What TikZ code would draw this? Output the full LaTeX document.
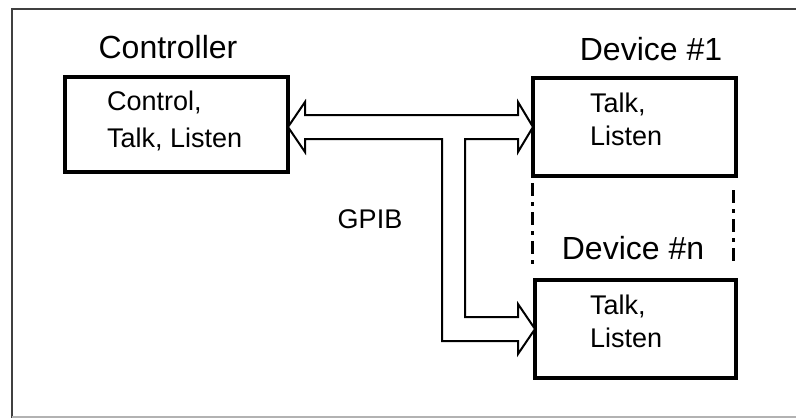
\documentclass[tikz,border=0pt]{standalone}
\usepackage{fontspec}
\setmainfont{Liberation Sans}
\usetikzlibrary{calc}
\begin{document}
\begin{tikzpicture}[x=1pt,y=-1pt,
  unitbox/.style={draw=black,line width=4pt,fill=white},
  title/.style={anchor=base,inner sep=0pt,font=\fontsize{32}{38}\selectfont},
  body/.style={anchor=base west,inner sep=0pt,font=\fontsize{27}{32}\selectfont},
  bus/.style={draw=black,line width=2pt,fill=white,line join=miter},
  spare/.style={draw=black,line width=3pt,dash pattern=on 13pt off 6pt on 4pt off 6pt}]
  \useasboundingbox (0,0) rectangle (796,418);

  % outer frame
  \draw[black!75,line width=2.5pt] (12,418) -- (12,9) -- (796,9);
  \draw[black!30,line width=1.5pt] (12,417) -- (796,417);

  % units
  \path[unitbox] (65,77) rectangle (288,172);
  \coordinate (ctrlE) at (288,127);
  \path[unitbox] (533,78) rectangle (736,176);
  \coordinate (devoneW) at (533,127);
  \path[unitbox] (535,280) rectangle (736,378);
  \coordinate (devnW) at (535,329);

  % placeholder outline for further devices
  \coordinate (sp1) at (532,183);
  \coordinate (sp2) at (532,268);
  \coordinate (sp3) at (733,190);
  \coordinate (sp4) at (733,262);
  \draw[spare] (sp1) -- (sp2);
  \draw[spare] (sp3) -- (sp4);

  % titles
  \node[title] (tctrl) at (168,58) {Controller};
  \node[title] (tdev1) at (651,60) {Device \#1};
  \node[title] (tdevn) at (633,259) {Device \#n};

  % box contents
  \node[body] (c1) at (107,110) {Control,};
  \node[body] (c2) at (107,147) {Talk, Listen};
  \node[body] (d1) at (590,112) {Talk,};
  \node[body] (d2) at (590,145) {Listen};
  \node[body] (n1) at (590,314) {Talk,};
  \node[body] (n2) at (590,347) {Listen};

  % bus
  \draw[bus] (ctrlE) -- ++(17,-25) -- ++(0,13)
    -- ($(devoneW)+(-15,-12)$) -- ++(0,-13) -- (devoneW)
    -- ++(-15,25) -- ++(0,-13) -- (465,139) -- (465,317)
    -- ($(devnW)+(-17,-12)$) -- ++(0,-13) -- (devnW)
    -- ++(-17,25) -- ++(0,-13) -- (442,341) -- (442,139)
    -- ($(ctrlE)+(17,12)$) -- ++(0,13) -- cycle;

  \node[body,anchor=base] (gpib) at (370,228) {GPIB};
\end{tikzpicture}
\end{document}
